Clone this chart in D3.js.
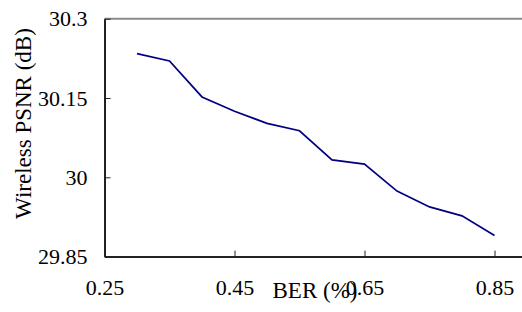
<!DOCTYPE html>
<html>
<head>
<meta charset="utf-8">
<script src="https://cdn.jsdelivr.net/npm/d3@7"></script>
<style>
  body { margin: 0; background: #fff; }
  svg { display: block; }
</style>
</head>
<body>
<svg width="522" height="312"></svg>
<script>
const berValues = [0.30, 0.35, 0.40, 0.45, 0.50, 0.55, 0.60, 0.65, 0.70, 0.75, 0.80, 0.85];
const psnrValues = [30.234, 30.220, 30.152, 30.125, 30.102, 30.088, 30.033, 30.025, 29.974, 29.944, 29.927, 29.890];
const xTicks = [0.25, 0.45, 0.65, 0.85];
const yTicks = [29.85, 30, 30.15, 30.3];

const serif = '"Liberation Serif", "Times New Roman", serif';
const svg = d3.select('svg');

// plot box, right edge runs off the picture like the original
const plotLeft = 104.5, plotTop = 18.7, plotBottom = 256.6;

const xScale = d3.scaleLinear()
    .domain([0.25, 0.9])
    .range([plotLeft, plotLeft + 0.65 * 650]);
const yScale = d3.scaleLinear()
    .domain([29.85, 30.3])
    .range([plotBottom, plotTop]);

// top frame line (grey)
svg.append('line')
    .attr('x1', plotLeft).attr('x2', 522)
    .attr('y1', plotTop).attr('y2', plotTop)
    .attr('stroke', '#8a8a8a')
    .attr('stroke-width', 2);

// x-axis
const xAxis = svg.append('g')
    .attr('transform', `translate(0, ${plotBottom})`)
    .call(d3.axisBottom(xScale)
        .tickValues(xTicks)
        .tickSizeInner(-6)
        .tickSizeOuter(0)
        .tickPadding(23)
        .tickFormat(d3.format('.2f')));
xAxis.select('.domain').attr('stroke', '#222').attr('stroke-width', 2);
xAxis.selectAll('.tick line').attr('stroke', '#222');
xAxis.selectAll('.tick text')
    .style('font-family', serif)
    .style('font-size', '22px');

// y-axis
const yAxis = svg.append('g')
    .attr('transform', `translate(${plotLeft}, 0)`)
    .call(d3.axisLeft(yScale)
        .tickValues(yTicks)
        .tickSizeInner(-6)
        .tickSizeOuter(0)
        .tickPadding(17)
        .tickFormat(d => String(+d.toFixed(2))));
yAxis.select('.domain').attr('stroke', '#222').attr('stroke-width', 2);
yAxis.selectAll('.tick line').attr('stroke', '#222');
yAxis.selectAll('.tick text')
    .style('font-family', serif)
    .style('font-size', '22px');

// the line
const line = d3.line()
    .x((d, i) => xScale(berValues[i]))
    .y(d => yScale(d));

svg.append('path')
    .datum(psnrValues)
    .attr('fill', 'none')
    .attr('stroke', '#000080')
    .attr('stroke-width', 1.7)
    .attr('d', line);

// axis titles
svg.append('text')
    .attr('x', 315)
    .attr('y', 298)
    .attr('text-anchor', 'middle')
    .style('font-family', serif)
    .style('font-size', '23px')
    .text('BER (%)');

svg.append('text')
    .attr('transform', 'translate(31, 123.5) rotate(-90)')
    .attr('text-anchor', 'middle')
    .style('font-family', serif)
    .style('font-size', '23px')
    .text('Wireless PSNR (dB)');
</script>
</body>
</html>
